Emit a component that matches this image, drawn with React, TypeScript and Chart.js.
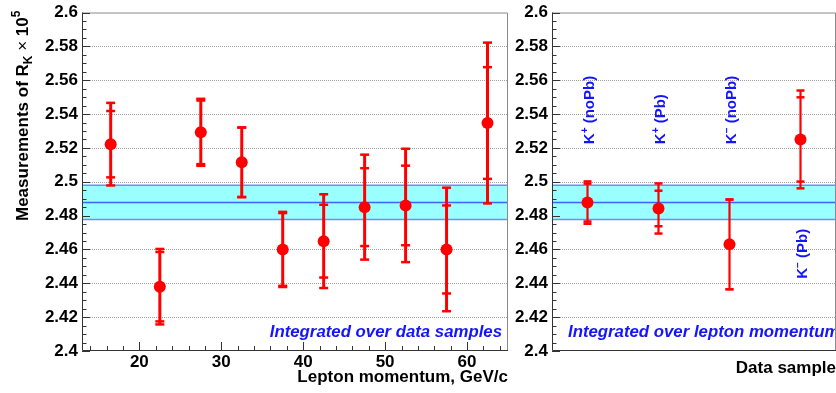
import React, { useEffect, useRef } from "react";
import { Chart, registerables } from "chart.js";

Chart.register(...registerables);

const FONT = '"Liberation Sans", Arial, Helvetica, sans-serif';

// ---------- data: left panel (R_K vs lepton momentum) ----------
const momentumBinCenters = [16.5, 22.5, 27.5, 32.5, 37.5, 42.5, 47.5, 52.5, 57.5, 62.5];
const momentumRK = [2.5222, 2.438, 2.5292, 2.5115, 2.46, 2.4649, 2.485, 2.486, 2.46, 2.5347];
const momentumStatErr = [0.0196, 0.0205, 0.0188, 0.0205, 0.0215, 0.0215, 0.023, 0.0235, 0.026, 0.033];
const momentumTotalErr = [0.0244, 0.0223, 0.0198, 0.0206, 0.0222, 0.0277, 0.031, 0.0335, 0.0365, 0.0475];
const momentumTickValues = [20, 30, 40, 50, 60];

// ---------- data: right panel (R_K per data sample) ----------
const samplePositions = [0.5, 1.5, 2.5, 3.5];
const sampleParticle = ["K", "K", "K", "K"];
const sampleCharges = ["+", "+", "\u2212", "\u2212"];
const sampleConditions = ["(noPb)", "(Pb)", "(noPb)", "(Pb)"];
const sampleRK = [2.4877, 2.4842, 2.463, 2.525];
const sampleStatErr = [0.0112, 0.0105, 0.0265, 0.0249];
const sampleTotalErr = [0.0125, 0.0148, 0.0265, 0.0289];

// ---------- combined result (band) ----------
const combinedRK = 2.4878;
const combinedErr = 0.0101;

const Y_MIN = 2.4;
const Y_MAX = 2.6;
const Y_STEP = 0.02;

const RED = "#ff0000";
const BLUE_TEXT = "#1414ff";
const CYAN = "#99ffff";
const BAND_EDGE = "#6f8cff";
const BAND_LINE = "#3c64ff";

type Piece = { text: string; size: number; dy?: number; weight?: string; style?: string };

function fontStr(p: Piece) {
  return `${p.style || "normal"} ${p.weight || "bold"} ${p.size}px ${FONT}`;
}

function drawPieces(ctx: CanvasRenderingContext2D, pieces: Piece[], x: number, y: number, rotation: number, color: string, align: "left" | "right" = "left") {
  ctx.save();
  ctx.translate(x, y);
  ctx.rotate(rotation);
  ctx.fillStyle = color;
  ctx.textBaseline = "alphabetic";
  ctx.textAlign = "left";
  let total = 0;
  const widths = pieces.map((p) => {
    ctx.font = fontStr(p);
    const w = ctx.measureText(p.text).width;
    total += w;
    return w;
  });
  let cx = align === "right" ? -total : 0;
  pieces.forEach((p, i) => {
    ctx.font = fontStr(p);
    ctx.fillText(p.text, cx, p.dy || 0);
    cx += widths[i];
  });
  ctx.restore();
}

function bandDatasets(xMin: number, xMax: number) {
  const hi = combinedRK + combinedErr;
  const lo = combinedRK - combinedErr;
  return [
    {
      type: "line", label: "bandUpper",
      data: [{ x: xMin, y: hi }, { x: xMax, y: hi }],
      borderColor: BAND_EDGE, borderWidth: 1.5, pointRadius: 0,
      fill: "+1", backgroundColor: CYAN, order: 4,
    },
    {
      type: "line", label: "bandLower",
      data: [{ x: xMin, y: lo }, { x: xMax, y: lo }],
      borderColor: BAND_EDGE, borderWidth: 1.5, pointRadius: 0, fill: false, order: 3,
    },
    {
      type: "line", label: "bandCentral",
      data: [{ x: xMin, y: combinedRK }, { x: xMax, y: combinedRK }],
      borderColor: BAND_LINE, borderWidth: 1.5, pointRadius: 0, fill: false, order: 2,
    },
  ];
}

function errorBarPlugin(xs: number[], ys: number[], stat: number[], tot: number[], lw: number, capW: number) {
  return {
    id: "errorBars",
    beforeDatasetDraw(chart: any, args: any) {
      if (chart.data.datasets[args.index].label !== "points") return;
      const { ctx } = chart;
      const xs_ = chart.scales.x;
      const ys_ = chart.scales.y;
      ctx.save();
      ctx.strokeStyle = RED;
      ctx.lineCap = "butt";
      xs.forEach((x, i) => {
        const px = xs_.getPixelForValue(x);
        const tTop = ys_.getPixelForValue(ys[i] + tot[i]);
        const tBot = ys_.getPixelForValue(ys[i] - tot[i]);
        const sTop = ys_.getPixelForValue(ys[i] + stat[i]);
        const sBot = ys_.getPixelForValue(ys[i] - stat[i]);
        ctx.lineWidth = lw;
        ctx.beginPath();
        ctx.moveTo(px, tTop);
        ctx.lineTo(px, tBot);
        ctx.stroke();
        ctx.lineWidth = 2.5;
        [tTop, tBot, sTop, sBot].forEach((py) => {
          ctx.beginPath();
          ctx.moveTo(px - capW / 2, py);
          ctx.lineTo(px + capW / 2, py);
          ctx.stroke();
        });
      });
      ctx.restore();
    },
  };
}

function frameGridPlugin(drawXTicks: boolean) {
  return {
    id: "frameGrid",
    beforeDatasetsDraw(chart: any) {
      const { ctx, chartArea } = chart;
      const ys = chart.scales.y;
      ctx.save();
      ctx.strokeStyle = "#a0a0a0";
      ctx.lineWidth = 1;
      ctx.setLineDash([1, 1]);
      ys.ticks.forEach((t: any) => {
        if (Math.abs(t.value - Y_MIN) < 1e-9 || Math.abs(t.value - Y_MAX) < 1e-9) return;
        const py = Math.round(ys.getPixelForValue(t.value)) + 0.5;
        ctx.beginPath();
        ctx.moveTo(chartArea.left, py);
        ctx.lineTo(chartArea.right, py);
        ctx.stroke();
      });
      ctx.restore();
    },
    afterDraw(chart: any) {
      const { ctx, chartArea } = chart;
      const { left, right, top, bottom } = chartArea;
      const ys = chart.scales.y;
      const xs = chart.scales.x;
      ctx.save();
      // frame
      ctx.lineWidth = 1;
      ctx.strokeStyle = "#8a8a8a";
      ctx.beginPath();
      ctx.moveTo(left, top + 0.5);
      ctx.lineTo(right - 0.5, top + 0.5);
      ctx.lineTo(right - 0.5, bottom);
      ctx.stroke();
      ctx.strokeStyle = "#333333";
      ctx.beginPath();
      ctx.moveTo(left + 0.5, top);
      ctx.lineTo(left + 0.5, bottom - 0.5);
      ctx.lineTo(right, bottom - 0.5);
      ctx.stroke();
      // y ticks (inside)
      const yt = ys.ticks.map((t: any) => t.value);
      for (let i = 0; i < yt.length; i++) {
        const py = Math.round(ys.getPixelForValue(yt[i])) + 0.5;
        ctx.beginPath();
        ctx.moveTo(left, py);
        ctx.lineTo(left + 8, py);
        ctx.stroke();
        if (i < yt.length - 1) {
          const step = (yt[i + 1] - yt[i]) / 4;
          for (let k = 1; k < 4; k++) {
            const pm = Math.round(ys.getPixelForValue(yt[i] + k * step)) + 0.5;
            ctx.beginPath();
            ctx.moveTo(left, pm);
            ctx.lineTo(left + 4.5, pm);
            ctx.stroke();
          }
        }
      }
      if (drawXTicks) {
        const xt = xs.ticks.map((t: any) => t.value);
        const step = (xt[1] - xt[0]) / 5;
        const start = Math.ceil(xs.min / step) * step;
        for (let v = start; v <= xs.max + 1e-9; v += step) {
          const px = Math.round(xs.getPixelForValue(v)) + 0.5;
          const isMajor = xt.some((m: number) => Math.abs(m - v) < 1e-6);
          ctx.beginPath();
          ctx.moveTo(px, bottom);
          ctx.lineTo(px, bottom - (isMajor ? 9 : 5));
          ctx.stroke();
        }
      }
      ctx.restore();
    },
  };
}

function yScaleConfig() {
  return {
    type: "linear",
    min: Y_MIN,
    max: Y_MAX,
    ticks: {
      stepSize: Y_STEP,
      color: "#000",
      padding: 4,
      font: { family: FONT, size: 17, weight: "bold", lineHeight: 1 },
      callback: (v: any) => String(Number(Number(v).toFixed(2))),
    },
    grid: { display: false, drawTicks: false },
    border: { display: false },
    afterFit: (s: any) => {
      s.width = 82;
    },
  };
}

const W_LEFT = 520;
const W_RIGHT = 380;
const RIGHT_OFFSET = 470;
const H = 393;

export default function App() {
  const leftRef = useRef<HTMLCanvasElement>(null);
  const rightRef = useRef<HTMLCanvasElement>(null);

  useEffect(() => {
    const leftAnnot = {
      id: "leftAnnot",
      afterDatasetsDraw(chart: any) {
        const { ctx, chartArea } = chart;
        drawPieces(ctx, [{ text: "Integrated over data samples", size: 16.8, style: "italic" }], chartArea.right - 6, chartArea.bottom - 14, 0, BLUE_TEXT, "right");
        drawPieces(
          ctx,
          [
            { text: "Measurements of R", size: 17 },
            { text: "K", size: 12, dy: 4 },
            { text: " ", size: 17 },
            { text: "\u00d7", size: 17, weight: "normal" },
            { text: " 10", size: 17 },
            { text: "5", size: 12, dy: -8 },
          ],
          28, 221, -Math.PI / 2, "#000"
        );
      },
    };

    const left = new Chart(leftRef.current as HTMLCanvasElement, {
      type: "scatter",
      data: {
        datasets: [
          ...(bandDatasets(13, 65) as any[]),
          {
            type: "scatter",
            label: "points",
            data: momentumBinCenters.map((x, i) => ({ x, y: momentumRK[i] })),
            pointRadius: 6,
            pointBackgroundColor: RED,
            pointBorderColor: RED,
            pointBorderWidth: 0,
            order: 1,
          },
        ],
      },
      options: {
        responsive: false,
        animation: false,
        events: [],
        layout: { padding: { top: 9, right: W_LEFT - 508, bottom: 0, left: 0 } },
        plugins: { legend: { display: false }, tooltip: { enabled: false } },
        scales: {
          x: {
            type: "linear",
            min: 13,
            max: 65,
            afterBuildTicks: (s: any) => {
              s.ticks = momentumTickValues.map((v) => ({ value: v }));
            },
            ticks: {
              maxRotation: 0,
              autoSkip: false,
              color: "#000",
              padding: 3,
              font: { family: FONT, size: 17, weight: "bold", lineHeight: 1 },
            },
            grid: { display: false, drawTicks: false },
            border: { display: false },
            title: {
              display: true,
              text: "Lepton momentum, GeV/c",
              align: "end",
              color: "#000",
              font: { family: FONT, size: 17, weight: "bold", lineHeight: 1.2 },
              padding: { top: 0, bottom: 5 },
            },
            afterFit: (s: any) => {
              s.height = 42;
            },
          },
          y: yScaleConfig() as any,
        },
      } as any,
      plugins: [
        frameGridPlugin(true),
        errorBarPlugin(momentumBinCenters, momentumRK, momentumStatErr, momentumTotalErr, 3, 9),
        leftAnnot,
      ],
    } as any);

    const sampleLabelAnchors = [2.5222, 2.5222, 2.5222, 2.4427];
    const rightAnnot = {
      id: "rightAnnot",
      afterDatasetsDraw(chart: any) {
        const { ctx, chartArea } = chart;
        const xs = chart.scales.x;
        const ys = chart.scales.y;
        samplePositions.forEach((p, i) => {
          drawPieces(
            ctx,
            [
              { text: sampleParticle[i], size: 15 },
              { text: sampleCharges[i], size: 10, dy: -6 },
              { text: " " + sampleConditions[i], size: 15 },
            ],
            xs.getPixelForValue(p) + 6.5,
            ys.getPixelForValue(sampleLabelAnchors[i]),
            -Math.PI / 2,
            BLUE_TEXT
          );
        });
        drawPieces(ctx, [{ text: "Integrated over lepton momentum", size: 16.8, style: "italic" }], chartArea.left + 16, chartArea.bottom - 14, 0, BLUE_TEXT);
      },
    };

    const right = new Chart(rightRef.current as HTMLCanvasElement, {
      type: "scatter",
      data: {
        datasets: [
          ...(bandDatasets(0, 4) as any[]),
          {
            type: "scatter",
            label: "points",
            data: samplePositions.map((x, i) => ({ x, y: sampleRK[i] })),
            pointRadius: 6,
            pointBackgroundColor: RED,
            pointBorderColor: RED,
            pointBorderWidth: 0,
            order: 1,
          },
        ],
      },
      options: {
        responsive: false,
        animation: false,
        events: [],
        layout: { padding: { top: 9, right: W_RIGHT - (836 - RIGHT_OFFSET), bottom: 0, left: 0 } },
        plugins: { legend: { display: false }, tooltip: { enabled: false } },
        scales: {
          x: {
            type: "linear",
            min: 0,
            max: 4,
            ticks: { display: false },
            grid: { display: false, drawTicks: false },
            border: { display: false },
            title: {
              display: true,
              text: "Data sample",
              align: "end",
              color: "#000",
              font: { family: FONT, size: 17, weight: "bold", lineHeight: 1.2 },
              padding: { top: 0, bottom: 14.8 },
            },
            afterFit: (s: any) => {
              s.height = 42;
            },
          },
          y: yScaleConfig() as any,
        },
      } as any,
      plugins: [
        frameGridPlugin(false),
        errorBarPlugin(samplePositions, sampleRK, sampleStatErr, sampleTotalErr, 2.2, 8),
        rightAnnot,
      ],
    } as any);

    return () => {
      left.destroy();
      right.destroy();
    };
  }, []);

  return (
    <div
      style={{
        position: "fixed",
        left: 0,
        top: 0,
        width: 836,
        height: H,
        overflow: "hidden",
        background: "#fff",
      }}
    >
      <canvas ref={leftRef} width={W_LEFT} height={H} style={{ position: "absolute", left: 0, top: 0 }} />
      <canvas ref={rightRef} width={W_RIGHT} height={H} style={{ position: "absolute", left: RIGHT_OFFSET, top: 0 }} />
    </div>
  );
}
